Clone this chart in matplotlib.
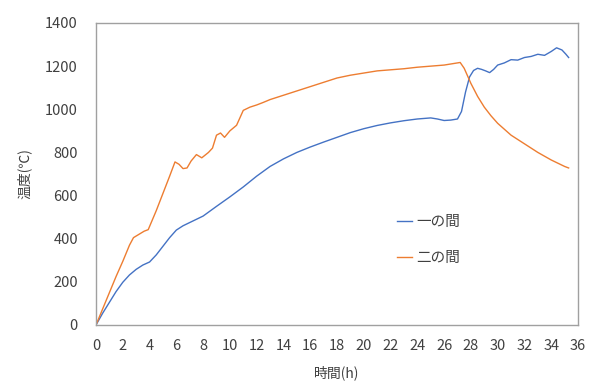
import matplotlib
matplotlib.use("Agg")
import matplotlib.pyplot as plt

plt.rcParams['font.family'] = ['Noto Sans CJK JP', 'DejaVu Sans']

# 一の間 (blue)
t1 = [0, 0.5, 1, 1.5, 2, 2.5, 3, 3.5, 4, 4.5, 5, 5.5, 6, 6.5, 7, 7.5, 8, 9, 10, 11, 12, 13, 14, 15, 16,
      17, 18, 19, 20, 21, 22, 23, 24, 25, 25.5, 26, 26.5, 27, 27.3, 27.6, 27.9, 28.2, 28.5, 28.8, 29.1,
      29.4, 29.7, 30, 30.5, 31, 31.5, 32, 32.5, 33, 33.5, 34, 34.4, 34.8, 35.1, 35.3]
v1 = [0, 55, 105, 155, 198, 232, 258, 278, 292, 325, 365, 405, 440, 460, 475, 490, 505, 550, 594, 640, 690,
      735, 770, 800, 825, 848, 870, 892, 910, 925, 937, 947, 955, 960, 955, 948, 950, 955, 990, 1080, 1150,
      1180, 1190, 1185, 1178, 1170, 1185, 1205, 1215, 1230, 1228, 1240, 1245, 1255, 1250, 1268, 1285, 1275,
      1255, 1240]

# 二の間 (orange)
t2 = [0, 0.5, 1, 1.5, 2, 2.2, 2.5, 2.8, 3.2, 3.6, 3.9, 4.5, 5.0, 5.5, 5.9, 6.2, 6.5, 6.8, 7.1, 7.5,
      7.9, 8.4, 8.7, 9.0, 9.3, 9.6, 10.0, 10.5, 11, 11.5, 12, 12.5, 13, 14, 14.5, 15, 16, 17, 18, 19, 20,
      21, 22, 23, 24, 25, 26, 26.5, 27, 27.2, 27.5, 28, 28.5, 29, 29.5, 30, 31, 32, 33, 34, 35, 35.3]
v2 = [0, 75, 150, 225, 295, 325, 370, 405, 420, 435, 442, 530, 610, 690, 756, 745, 725, 728, 760, 790,
      775, 800, 820, 880, 890, 870, 900, 926, 995, 1010, 1020, 1032, 1045, 1065, 1075, 1085, 1105, 1125,
      1145, 1158, 1168, 1178, 1183, 1188, 1195, 1200, 1205, 1210, 1215, 1217, 1190, 1120, 1060, 1010, 970,
      935, 880, 840, 800, 765, 735, 728]

labels = ['一の間', '二の間']
xticks = list(range(0, 37, 2))
yticks = list(range(0, 1401, 200))

fig = plt.figure(figsize=(5.9, 3.83), dpi=100)
ax = fig.add_axes([96 / 590, 1 - 325 / 383, (578 - 96) / 590, (325 - 23) / 383])
ax.plot(t1, v1, color='#4472C4', lw=1.0, label=labels[0])
ax.plot(t2, v2, color='#ED7D31', lw=1.0, label=labels[1])
ax.set_xlim(0, 36)
ax.set_ylim(0, 1400)
ax.set_xticks(xticks)
ax.set_yticks(yticks)
ax.tick_params(length=0, labelsize=10.5, colors='#404040')
ax.tick_params(axis='x', pad=10)
ax.tick_params(axis='y', pad=13)
for s in ax.spines.values():
    s.set_color('#A0A0A0')
    s.set_linewidth(1.0)
ax.set_xlabel('時間(h)', fontsize=10, color='#404040', labelpad=9)
ax.set_ylabel('温度(℃)', fontsize=10, color='#404040', labelpad=10)
leg = fig.legend(loc='upper left', bbox_to_anchor=(397 / 590, 1 - 215 / 383), frameon=False, fontsize=10.5,
                 handlelength=1.0, handletextpad=0.3, labelspacing=1.5, borderpad=0, borderaxespad=0)
for txt in leg.get_texts():
    txt.set_color('#404040')
fig.savefig('out.png', dpi=100)
